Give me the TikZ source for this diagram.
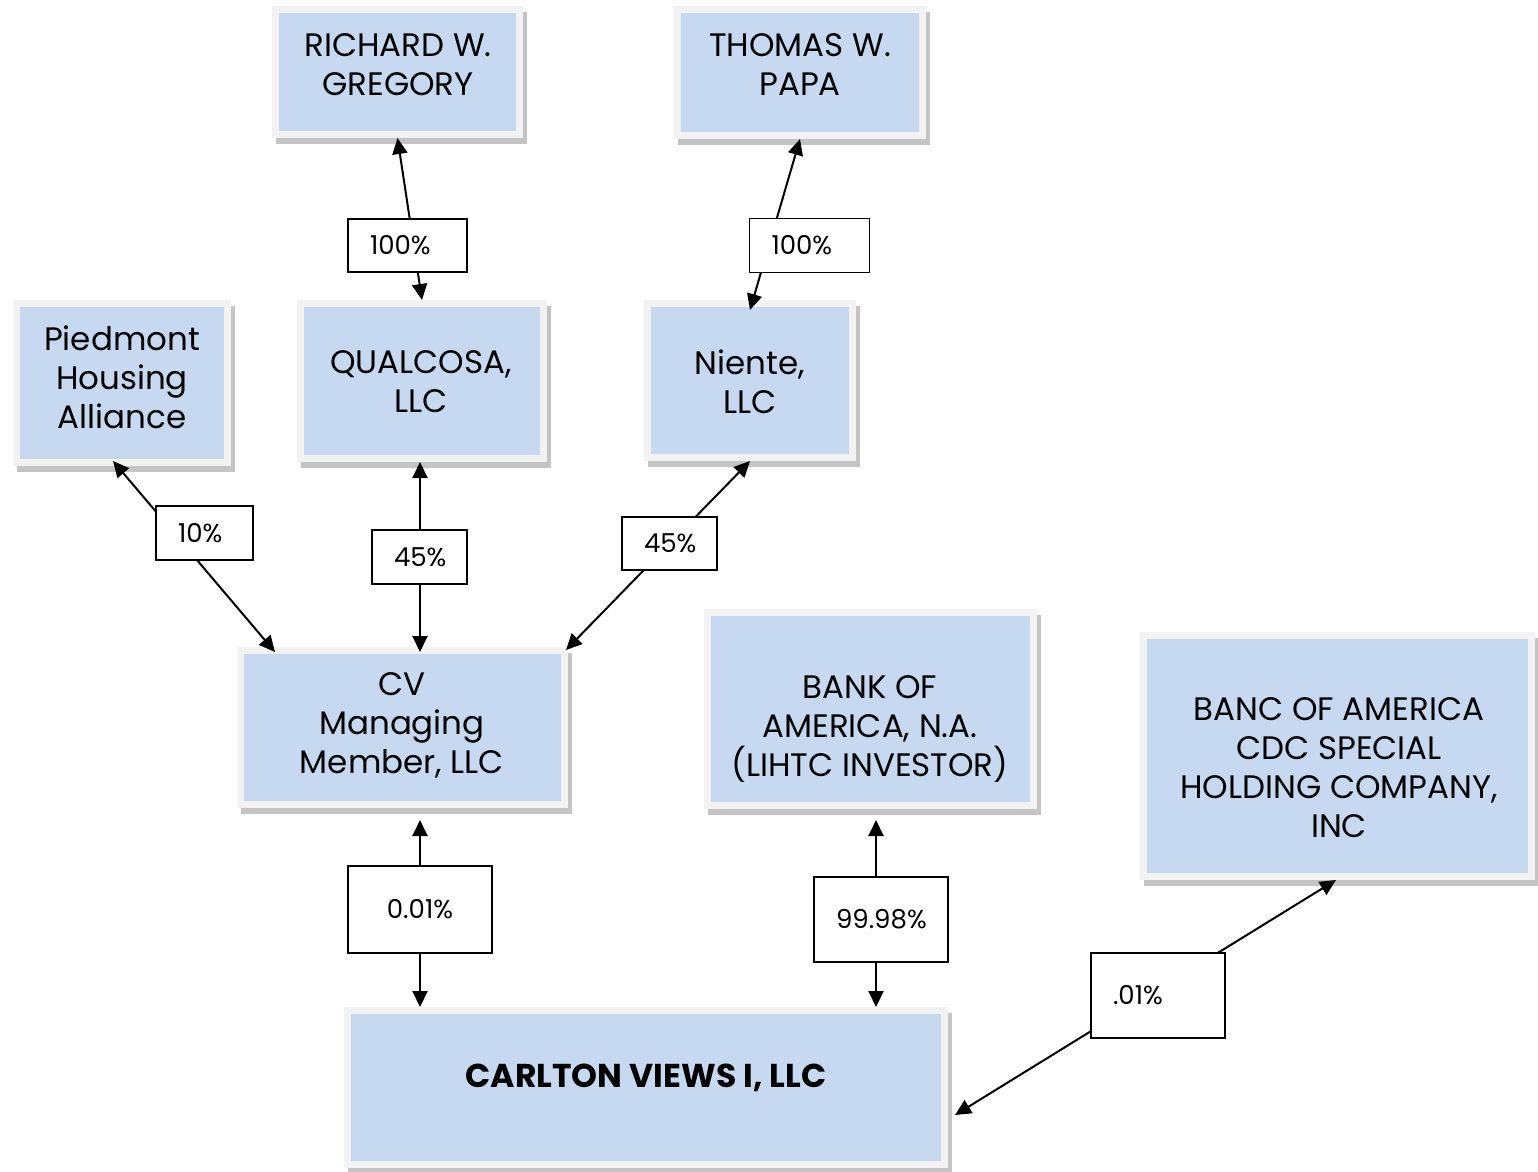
\documentclass[tikz,border=0pt]{standalone}
\usepackage{fontspec}
\setmainfont{Poppins}
\usetikzlibrary{arrows.meta}
\definecolor{boxblue}{HTML}{C6D9F0}
\definecolor{bandgray}{HTML}{F2F2F2}
\definecolor{shadowgray}{HTML}{C4C4C4}
\tikzset{
  ent/.style={rectangle, fill=boxblue, draw=bandgray, line width=7pt, inner sep=0pt,
    preaction={draw=shadowgray, fill=shadowgray, line width=7pt, transform canvas={xshift=4pt,yshift=-6pt}}},
  etext/.style={align=center, font=\fontsize{32.5}{39}\selectfont, inner sep=0pt},
  pct/.style={rectangle, draw=black, fill=white, line width=1.5pt, inner ysep=0pt, inner xsep=22pt,
    font=\fontsize{26}{30}\selectfont, text height=18pt, text depth=0pt},
  link/.style={line width=2pt, <->},
  >={Triangle[length=16pt,width=15pt]}
}
\begin{document}
\begin{tikzpicture}[x=1pt,y=-1pt]
\useasboundingbox[fill=white] (0,0) rectangle (1538,1171);
% entity boxes
\node[ent, minimum width=244pt, minimum height=125pt] (rich) at (397.5,72) {};
\node[ent, minimum width=245pt, minimum height=126pt] (thom) at (800,72.5) {};
\node[ent, minimum width=211pt, minimum height=159pt] (pied) at (122,383) {};
\node[ent, minimum width=243pt, minimum height=155pt] (qual) at (422,381) {};
\node[ent, minimum width=205pt, minimum height=154pt] (nien) at (750,380.5) {};
\node[ent, minimum width=324pt, minimum height=154pt] (cv) at (402.5,727.5) {};
\node[ent, minimum width=326pt, minimum height=193pt] (bank) at (870.5,709) {};
\node[ent, minimum width=388pt, minimum height=241pt] (banc) at (1337.5,756) {};
\node[ent, minimum width=597pt, minimum height=154pt] (carl) at (646,1087.5) {};
% entity texts
\node[etext] (richT) at (398,65) {RICHARD W.\\GREGORY};
\node[etext] (thomT) at (800,65) {THOMAS W.\\PAPA};
\node[etext] (piedT) at (122,377) {Piedmont\\Housing\\Alliance};
\node[etext] (qualT) at (421,381.5) {QUALCOSA,\\LLC};
\node[etext] (nienT) at (750,382) {Niente,\\LLC};
\node[etext] (cvT) at (402,725) {CV\\Managing\\Member, LLC};
\node[etext] (bankT) at (870,729) {BANK OF\\AMERICA, N.A.\\(LIHTC INVESTOR)};
\node[etext] (bancT) at (1339,767.5) {BANC OF AMERICA\\CDC SPECIAL\\HOLDING COMPANY,\\INC};
\node[etext, font=\fontsize{33}{39}\selectfont\bfseries] (carlT) at (646,1078) {CARLTON VIEWS I, LLC};
% connectors
\draw[link] (qual.north) -- (rich.south);
\draw[link] ([yshift=-10pt]nien.north) -- (thom.south);
\draw[link] ([xshift=-9pt,yshift=5pt]pied.south) -- ([xshift=38pt,yshift=-5pt]cv.north west);
\draw[link] ([xshift=-2pt]qual.south) -- ([xshift=17.5pt,yshift=-5pt]cv.north);
\draw[link] (nien.south) -- ([xshift=-2pt,yshift=-3pt]cv.north east);
\coordinate (cvb) at ([xshift=17.5pt,yshift=-12pt]cv.south);
\draw[link] (cvb) -- (cvb |- carl.north);
\coordinate (bankb) at ([xshift=5.5pt,yshift=-11pt]bank.south);
\draw[link] (bankb) -- (bankb |- carl.north);
\draw[link] ([xshift=7pt,yshift=-27.5pt]carl.east) -- ([xshift=-1.5pt]banc.south);
% percentage labels
\node[pct, text width=75pt, align=left, minimum height=53pt] (p100a) at (407.5,245.5) {100\%};
\node[pct, text width=76pt, align=left, minimum height=54pt] (p100b) at (809.5,245.5) {100\%};
\node[pct, text width=53pt, align=left, minimum height=54pt] (p10) at (204.5,533) {10\%};
\node[pct, text width=51pt, align=left, minimum height=54pt] (p45a) at (419.5,557) {45\%};
\node[pct, text width=51pt, align=left, minimum height=53pt] (p45b) at (669.5,543.5) {45\%};
\node[pct, minimum width=144pt, minimum height=87pt] (p001) at (420,909.5) {0.01\%};
\node[pct, text width=90pt, align=left, minimum height=85pt] (p9998) at (881,919.5) {99.98\%};
\node[pct, text width=90pt, align=left, minimum height=85pt] (p01) at (1158,995.5) {.01\%};
\end{tikzpicture}
\end{document}
